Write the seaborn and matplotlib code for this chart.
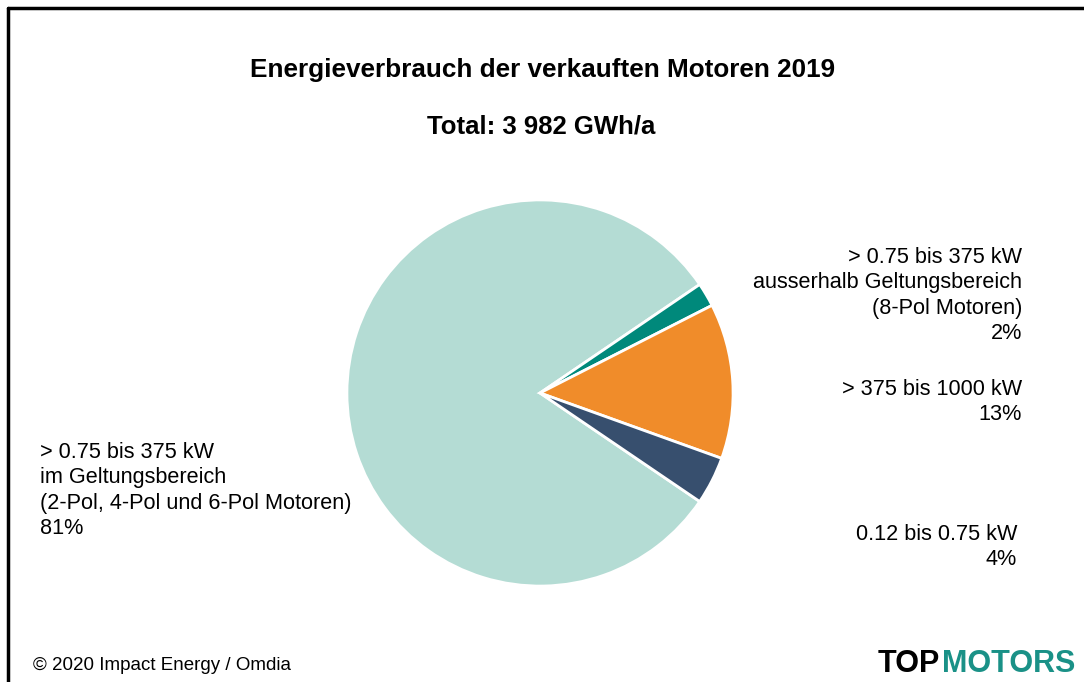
import matplotlib
matplotlib.use("Agg")
import matplotlib.pyplot as plt
import seaborn as sns

# data
segments = [
    "> 0.75 bis 375 kW\nim Geltungsbereich\n(2-Pol, 4-Pol und 6-Pol Motoren)",
    "> 0.75 bis 375 kW\nausserhalb Geltungsbereich\n(8-Pol Motoren)",
    "> 375 bis 1000 kW",
    "0.12 bis 0.75 kW",
]
shares = [81, 2, 13, 4]
slice_colors = ["#b4dcd4", "#00897b", "#f08c2a", "#374f6e"]

title = "Energieverbrauch der verkauften Motoren 2019"
subtitle = "Total: 3 982 GWh/a"
source = "\u00a9 2020 Impact Energy / Omdia"

sns.set_theme(style="white")
plt.rcParams["font.family"] = ["Liberation Sans", "DejaVu Sans"]

W, H = 1084, 682
fig = plt.figure(figsize=(W / 100, H / 100), dpi=100)
fig.patch.set_facecolor("white")

# frame: only top and left edges visible in the crop
fig.add_artist(plt.Line2D([8 / W, 8 / W], [0, 1 - 8 / H], color="black", lw=2.5,
                          transform=fig.transFigure))
fig.add_artist(plt.Line2D([8 / W, 1], [1 - 8 / H, 1 - 8 / H], color="black", lw=2.5,
                          transform=fig.transFigure))

# pie axes: center (540, 393), radius 195 px
cx, cy, r = 540, 393, 195
ax = fig.add_axes([(cx - r) / W, (H - cy - r) / H, 2 * r / W, 2 * r / H])
pal = sns.color_palette(slice_colors)
ax.pie(shares, colors=pal, startangle=-34.2, counterclock=False,
       wedgeprops=dict(edgecolor="white", linewidth=2))
ax.set_xlim(-1.01, 1.01)
ax.set_ylim(-1.01, 1.01)
ax.set_aspect("equal")
ax.axis("off")

fig.text(543 / W, 1 - 70 / H, title, ha="center", va="center",
         fontsize=18.8, fontweight="bold", color="black")
fig.text(541 / W, 1 - 127 / H, subtitle, ha="center", va="center",
         fontsize=18.5, fontweight="bold", color="black")

lab = dict(fontsize=15.6, color="black", linespacing=1.27)
fig.text(40 / W, 1 - 442 / H, segments[0] + "\n%d%%" % shares[0],
         ha="left", va="top", **lab)
fig.text(1022 / W, 1 - 247 / H, segments[1] + "\n%d%%" % shares[1],
         ha="right", va="top", multialignment="right", **lab)
fig.text(1022 / W, 1 - 379 / H, segments[2] + "\n%d%%" % shares[2],
         ha="right", va="top", multialignment="right", **lab)
fig.text(1017 / W, 1 - 524 / H, segments[3] + "\n%d%%" % shares[3],
         ha="right", va="top", multialignment="right", **lab)

fig.text(33 / W, 1 - 665 / H, source, ha="left", va="center",
         fontsize=13.5, color="black")

# logo
fig.text(940 / W, 1 - 664 / H, "TOP", ha="right", va="center",
         fontsize=22, fontweight="bold", color="black")
fig.text(942 / W, 1 - 664 / H, "MOTORS", ha="left", va="center",
         fontsize=22, fontweight="bold", color="#1a9187")

fig.savefig("out.png", dpi=100, facecolor="white")
